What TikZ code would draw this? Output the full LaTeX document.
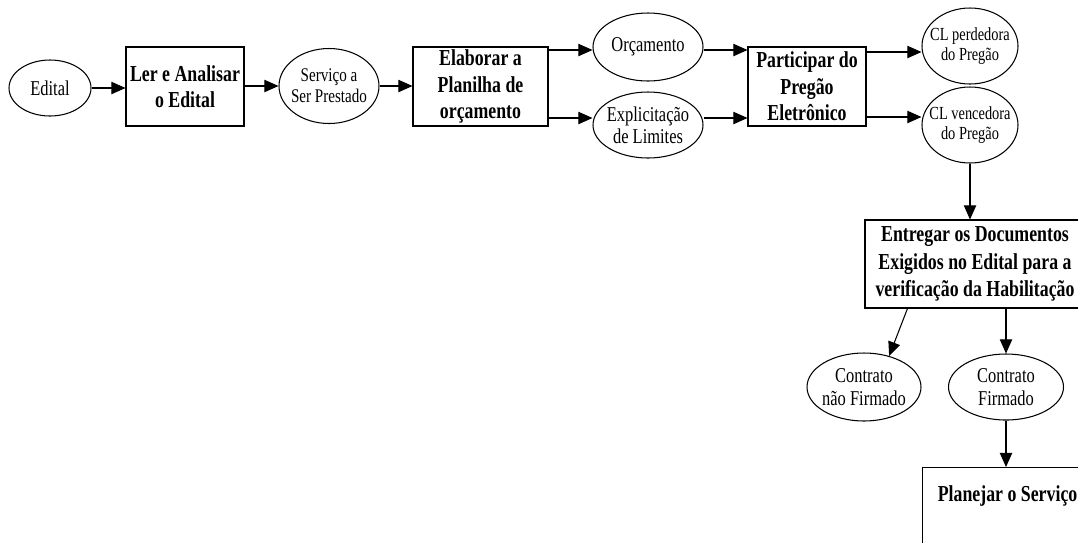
\documentclass[tikz,border=0pt]{standalone}
\usepackage{fontspec}
\newfontfamily\flowfont{Liberation Serif}[FakeStretch=0.78]
\usetikzlibrary{arrows.meta,shapes.geometric}

\begin{document}
\begin{tikzpicture}[
    line width=0.6pt,
    arr/.style={-{Triangle[length=8pt,width=7pt]}},
    bbox/.style={draw,align=center,inner sep=0pt,font=\flowfont\bfseries\fontsize{13}{15}\selectfont},
    oval/.style={draw,ellipse,inner sep=0pt},
    ovaltxt/.style={align=center,inner sep=0pt,font=\flowfont\fontsize{12}{12.5}\selectfont},
    smalltxt/.style={ovaltxt,font=\flowfont\fontsize{10.5}{11.5}\selectfont}
  ]
  \clip (0,0) rectangle (21.56,-10.84);
  % first row
  \node[oval,minimum width=1.64cm,minimum height=1.12cm,label={[ovaltxt]center:Edital}] (edital) at (1.0,-1.76) {};
  \node[bbox,minimum width=2.36cm,minimum height=1.58cm] (ler) at (3.7,-1.73) {Ler e Analisar\\o Edital};
  \node[oval,minimum width=2.0cm,minimum height=1.5cm,label={[ovaltxt,font=\flowfont\fontsize{11}{12}\selectfont]center:Serviço a\\Ser Prestado}] (servico) at (6.58,-1.72) {};
  \node[bbox,minimum width=2.7cm,minimum height=1.58cm] (elab) at (9.61,-1.73) {Elaborar a\\Planilha de\\orçamento};
  \node[oval,minimum width=2.2cm,minimum height=1.36cm,label={[ovaltxt]center:Orçamento}] (orc) at (12.96,-0.94) {};
  \node[oval,minimum width=2.2cm,minimum height=1.32cm,label={[ovaltxt]center:Explicitação\\de Limites}] (expl) at (12.96,-2.5) {};
  \node[bbox,minimum width=2.36cm,minimum height=1.58cm] (part) at (16.14,-1.73) {Participar do\\Pregão\\Eletrônico};
  \node[oval,minimum width=1.92cm,minimum height=1.52cm,label={[smalltxt]center:CL perdedora\\do Pregão}] (perd) at (19.4,-0.92) {};
  \node[oval,minimum width=1.92cm,minimum height=1.52cm,label={[smalltxt]center:CL vencedora\\do Pregão}] (venc) at (19.4,-2.5) {};
  % right column
  \node[bbox,minimum width=4.4cm,minimum height=1.76cm,font=\flowfont\bfseries\fontsize{13}{15.5}\selectfont] (entr) at (19.5,-5.28) {Entregar os Documentos\\Exigidos no Edital para a\\verificação da Habilitação};
  \node[oval,minimum width=2.28cm,minimum height=1.36cm,label={[ovaltxt,font=\flowfont\fontsize{12}{13.5}\selectfont]center:Contrato\\não Firmado}] (naofirm) at (17.28,-7.74) {};
  \node[oval,minimum width=2.3cm,minimum height=1.32cm,label={[ovaltxt,font=\flowfont\fontsize{12}{13.5}\selectfont]center:Contrato\\Firmado}] (firm) at (20.12,-7.74) {};
  \node[bbox,anchor=north west,minimum width=3.4cm,text height=9pt,text depth=40pt,inner ysep=10.5pt] (plan) at (18.44,-9.34) {Planejar o Serviço};

  \coordinate (e1) at ([yshift=0.73cm]elab.east);
  \coordinate (e2) at ([yshift=-0.63cm]elab.east);
  \coordinate (pa) at ([yshift=0.73cm]part.west);
  \coordinate (pb) at ([yshift=-0.63cm]part.west);
  \coordinate (p1) at ([yshift=0.69cm]part.east);
  \coordinate (p2) at ([yshift=-0.61cm]part.east);

  \draw[arr] (edital.east) -- (edital.east -| ler.west);
  \draw[arr] (ler.east |- servico.west) -- (servico.west);
  \draw[arr] (servico.east) -- (servico.east -| elab.west);
  \draw[arr] (e1) -- (e1 -| orc.west);
  \draw[arr] (e2) -- (e2 -| expl.west);
  \draw[arr] (pa -| orc.east) -- (pa);
  \draw[arr] (pb -| expl.east) -- (pb);
  \draw[arr] (p1) -- (p1 -| perd.west);
  \draw[arr] (p2) -- (p2 -| venc.west);
  \draw[arr] (venc.south) -- (venc.south |- entr.north);
  \draw[arr] ([xshift=0.86cm]entr.south west) -- (naofirm.51);
  \draw[arr] (firm.north |- entr.south) -- (firm.north);
  \draw[arr] (firm.south) -- (firm.south |- plan.north);
\end{tikzpicture}
\end{document}
